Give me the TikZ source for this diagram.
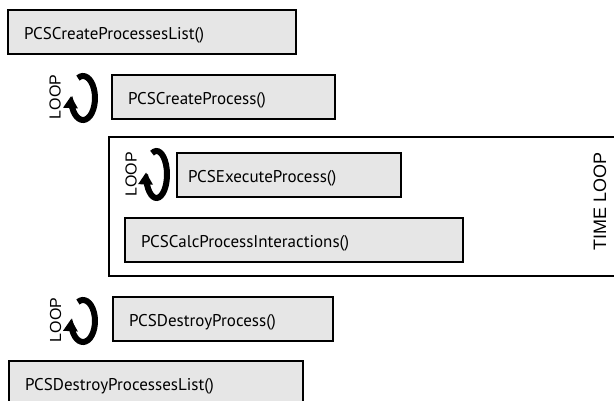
\documentclass[tikz,border=0pt]{standalone}
\usepackage{fontspec}
\setmainfont{PT Sans}
\newfontfamily\arialfont{Liberation Sans}
\usetikzlibrary{positioning,arrows.meta}
\definecolor{boxgray}{RGB}{230,230,230}

\begin{document}
\begin{tikzpicture}[x=1pt,y=1pt,
	fn/.style={draw,fill=boxgray,line width=2pt,anchor=north west,
		minimum height=44pt,inner xsep=16pt,align=left,
		text height=16pt,text depth=1pt,
		font=\fontsize{17}{19}\selectfont},
	looplabel/.style={rotate=90,inner sep=0pt,
		font=\arialfont\fontsize{16}{16}\selectfont},
	looparrow/.style={line width=6pt,-{Triangle[length=12pt,width=14pt]}},
	]
	\path[use as bounding box,clip] (0,0) rectangle (614,-401);
	%function boxes
	\node[fn,text width=256pt] (crlist) at (7,-9) {PCSCreateProcessesList()};
	\node[fn,text width=191pt] (crproc) at (111,-74) {PCSCreateProcess()};
	%time loop frame
	\node[draw,line width=2pt,anchor=north west,minimum width=530pt,minimum height=139pt] (tloop) at (108,-136) {};
	\node[rotate=90,inner sep=0pt,font=\arialfont\fontsize{18}{18}\selectfont] (tlooplabel) at (600,-201) {TIME LOOP};
	\node[fn,text width=202pt,inner xsep=11pt] (exproc) at (176,-152) {PCSExecuteProcess()};
	\node[fn,text width=306pt] (calcint) at (124,-217) {PCSCalcProcessInteractions()};
	\node[fn,text width=188pt] (deproc) at (112,-296) {PCSDestroyProcess()};
	\node[fn,text width=262pt] (delist) at (8,-360) {PCSDestroyProcessesList()};
	%loop marks
	\coordinate (c1) at (83,-98);
	\coordinate (c2) at (156.5,-174.5);
	\coordinate (c3) at (83,-321);
	\node[looplabel] (l1) at (55,-97) {LOOP};
	\node[looplabel] (l2) at (131,-174.5) {LOOP};
	\node[looplabel] (l3) at (55.5,-320) {LOOP};
	\draw[looparrow] (c1) ++(115:12 and 22) arc[start angle=115,end angle=-185,x radius=12,y radius=22];
	\draw[looparrow] (c2) ++(115:10.5 and 23.5) arc[start angle=115,end angle=-185,x radius=10.5,y radius=23.5];
	\draw[looparrow] (c3) ++(115:12 and 21) arc[start angle=115,end angle=-185,x radius=12,y radius=21];
\end{tikzpicture}
\end{document}
